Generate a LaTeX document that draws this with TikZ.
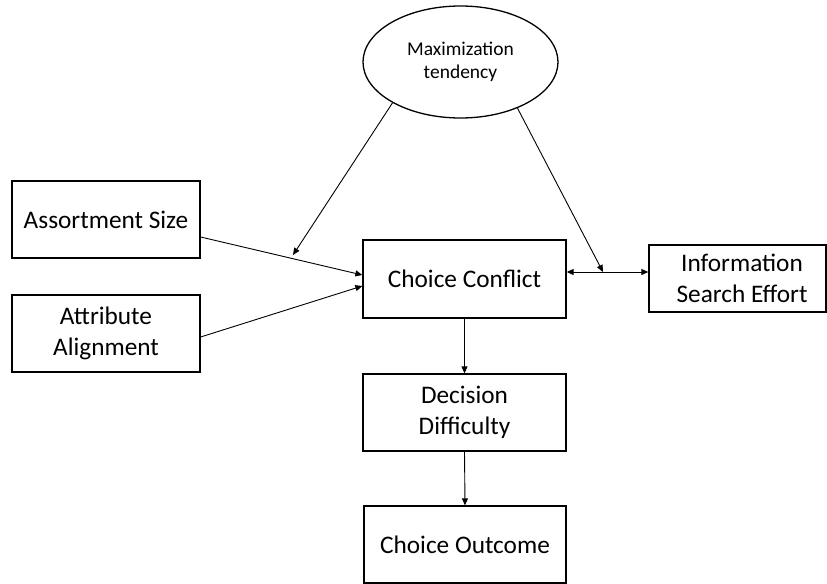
\documentclass[tikz,border=0pt]{standalone}
\usepackage{fontspec}
\setmainfont{Carlito}
\usetikzlibrary{shapes.geometric,arrows.meta,calc}
\begin{document}
\begin{tikzpicture}[x=1bp,y=-1bp,
  boxnode/.style={draw=black,line width=1.3bp,rectangle,inner sep=0pt,align=center,
    font=\fontsize{25.3bp}{30.8bp}\selectfont},
  ellnode/.style={draw=black,line width=1.3bp,ellipse,inner sep=0pt,align=center,
    minimum width=195bp,minimum height=112bp,font=\fontsize{19.5bp}{23.5bp}\selectfont},
  arr/.style={line width=0.9bp,-{Triangle[length=7bp,width=6bp]}},
  darr/.style={line width=0.9bp,{Triangle[length=7bp,width=6bp]}-{Triangle[length=7bp,width=6bp]}}]
\useasboundingbox (0,0) rectangle (827,584);
\node[ellnode] (MT) at (460.5,62) {Maximization\\tendency};
\node[boxnode,minimum width=188bp,minimum height=77bp] (AS) at (106,219.5) {Assortment Size};
\node[boxnode,minimum width=188bp,minimum height=77bp] (AA) at (106,333.5) {Attribute\\Alignment};
\node[boxnode,minimum width=203bp,minimum height=78bp] (CC) at (464.5,279) {Choice Conflict};
\node[boxnode,minimum width=177bp,minimum height=67bp] (IS) at (737.5,278.5) {\hspace*{9bp}Information\\\hspace*{9bp}Search Effort};
\node[boxnode,minimum width=203bp,minimum height=77bp] (DD) at (464.5,412.5) {Decision\\Difficulty};
\node[boxnode,minimum width=202bp,minimum height=77bp] (CO) at (465,544.5) {Choice Outcome};
\coordinate (j1) at (293,255);
\coordinate (j2) at (603,272);
\draw[arr] ([yshift=-17.5bp]AS.east) -- ([yshift=4bp]CC.west);
\draw[arr] ([yshift=-3.5bp]AA.east) -- ([yshift=-7bp]CC.west);
\draw[darr] ([yshift=7bp]CC.east) -- ([yshift=7bp]CC.east -| IS.west);
\draw[arr] (MT.211.5) -- (j1);
\draw[arr] (MT.321.3) -- (j2);
\draw[arr] (CC.south) -- (DD.north);
\draw[arr] (DD.south) -- (CO.north);
\end{tikzpicture}
\end{document}
